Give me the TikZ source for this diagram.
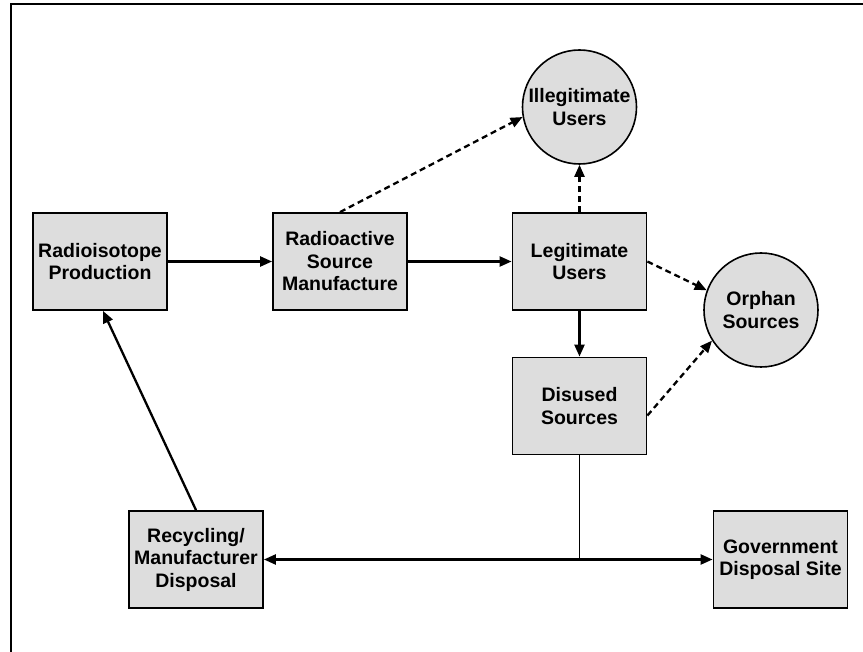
\documentclass[tikz,border=0pt]{standalone}
\usepackage{fontspec}
\setmainfont{Liberation Sans}
\usetikzlibrary{arrows.meta,calc}
\begin{document}
\begin{tikzpicture}[x=1pt,y=-1pt,
  box/.style={draw=black,line width=1.8pt,fill=boxgray,minimum width=134pt,minimum height=97pt,inner sep=0pt,align=center,font=\fontsize{19.5}{22.5}\selectfont\bfseries},
  ball/.style={draw=black,line width=1.6pt,fill=boxgray,circle,minimum size=114pt,inner sep=0pt,align=center,font=\fontsize{19.5}{22.5}\selectfont\bfseries},
  arr/.style={line width=2.3pt,-{Triangle[length=12pt,width=10pt]}},
  darr/.style={arr,dash pattern=on 6pt off 4pt},
  thin/.style={line width=1.4pt}]
\definecolor{boxgray}{HTML}{DDDDDD}
\useasboundingbox (0,0) rectangle (863,652);
\draw[line width=2pt] (11,652) -- (11,4) -- (863,4);

\node[box] (rp) at (100,261.5) {Radioisotope\\Production};
\node[box] (rsm) at (340,261.5) {Radioactive\\Source\\Manufacture};
\node[box] (lu) at (579.5,261.5) {Legitimate\\Users};
\node[box] (ds) at (579.5,406) {Disused\\Sources};
\node[box] (rmd) at (196,559.5) {Recycling/\\Manufacturer\\Disposal};
\node[box] (gds) at (780.5,559.5) {Government\\Disposal Site};
\node[ball] (iu) at (579.5,107) {Illegitimate\\Users};
\node[ball] (os) at (761,310) {Orphan\\Sources};

\draw[arr] (rp.east) -- (rsm.west);
\draw[arr] (rsm.east) -- (lu.west);
\draw[arr] (lu.south) -- (ds.north);
\draw[darr] (rsm.north) -- (iu.190);
\draw[darr] (lu.north) -- (iu.south);
\draw[darr] (lu.east) -- (os.160);
\draw[darr] (ds.-8) -- (os.212);
\draw[arr] (rmd.north) -- ($(rp.south)+(3,0)$);
\coordinate (j) at (ds.south |- rmd.east);
\draw[thin] (ds.south) -- (j);
\draw[arr,{Triangle[length=12pt,width=10pt]}-{Triangle[length=12pt,width=10pt]}] (rmd.east) -- (gds.west);
\end{tikzpicture}
\end{document}
